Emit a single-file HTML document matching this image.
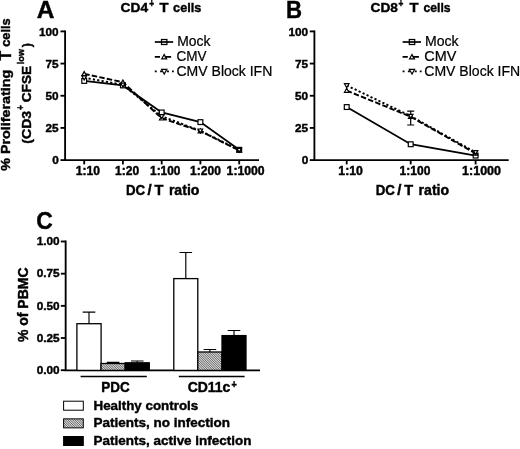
<!DOCTYPE html>
<html><head><meta charset="utf-8"><title>Figure</title>
<style>
html,body{margin:0;padding:0;background:#fff;}
body{width:520px;height:449px;overflow:hidden;}
svg{display:block;font-family:"Liberation Sans",Arial,Helvetica,sans-serif;fill:#000;}
.b{font-weight:bold;stroke:#000;stroke-width:0.42px;}
.n{font-weight:normal;stroke:#000;stroke-width:0.22px;}
.ax{stroke:#000;stroke-width:1.85;fill:none;}
</style></head><body>
<svg width="520" height="449" viewBox="0 0 520 449">
<rect width="520" height="449" fill="#fff"/>

<text class="b" x="36.70" y="18.40" font-size="24.3" textLength="17.65" lengthAdjust="spacingAndGlyphs">A</text>
<text class="b" x="286.00" y="18.40" font-size="24.3" textLength="16.05" lengthAdjust="spacingAndGlyphs">B</text>
<text class="b" x="36.30" y="228.80" font-size="24.3" textLength="16.55" lengthAdjust="spacingAndGlyphs">C</text>
<text class="b" x="120.60" y="11.90" font-size="13.4" textLength="27.51" lengthAdjust="spacingAndGlyphs">CD4</text>
<text class="b" x="149.20" y="6.90" font-size="10" textLength="4.89" lengthAdjust="spacingAndGlyphs">+</text>
<text class="b" x="159.50" y="11.90" font-size="13.4" textLength="9.01" lengthAdjust="spacingAndGlyphs">T</text>
<text class="b" x="173.10" y="11.90" font-size="13.4" textLength="28.19" lengthAdjust="spacingAndGlyphs">cells</text>
<text class="b" x="370.60" y="11.90" font-size="13.4" textLength="27.31" lengthAdjust="spacingAndGlyphs">CD8</text>
<text class="b" x="398.50" y="6.90" font-size="10" textLength="4.79" lengthAdjust="spacingAndGlyphs">+</text>
<text class="b" x="409.60" y="11.90" font-size="13.4" textLength="9.01" lengthAdjust="spacingAndGlyphs">T</text>
<text class="b" x="423.50" y="11.90" font-size="13.4" textLength="27.09" lengthAdjust="spacingAndGlyphs">cells</text>
<text class="b" transform="translate(10.25,170.70) rotate(-90)" font-size="13.6" textLength="100.92" lengthAdjust="spacingAndGlyphs">% Proliferating</text>
<text class="b" transform="translate(10.50,60.50) rotate(-90)" font-size="15.6" textLength="9.71" lengthAdjust="spacingAndGlyphs">T</text>
<text class="b" transform="translate(10.25,46.80) rotate(-90)" font-size="13.6" textLength="28.49" lengthAdjust="spacingAndGlyphs">cells</text>
<text class="b" transform="translate(30.60,143.70) rotate(-90)" font-size="13.3" textLength="32.88" lengthAdjust="spacingAndGlyphs">(CD3</text>
<text class="b" transform="translate(24.20,110.00) rotate(-90)" font-size="10" textLength="4.79" lengthAdjust="spacingAndGlyphs">+</text>
<text class="b" transform="translate(30.60,102.30) rotate(-90)" font-size="13.3" textLength="36.43" lengthAdjust="spacingAndGlyphs">CFSE</text>
<text class="b" transform="translate(24.00,64.20) rotate(-90)" font-size="9.7" textLength="15.17" lengthAdjust="spacingAndGlyphs">low</text>
<text class="b" transform="translate(30.60,47.30) rotate(-90)" font-size="13.3" textLength="4.08" lengthAdjust="spacingAndGlyphs">)</text>
<path class="ax" d="M65.1 30.45V160.1H259"/>
<path class="ax" d="M60.49999999999999 31.40H65.1"/>
<text class="b" x="58.7" y="35.55" font-size="11.8" text-anchor="end">100</text>
<path class="ax" d="M60.49999999999999 63.57H65.1"/>
<text class="b" x="58.7" y="67.72" font-size="11.8" text-anchor="end">75</text>
<path class="ax" d="M60.49999999999999 95.75H65.1"/>
<text class="b" x="58.7" y="99.90" font-size="11.8" text-anchor="end">50</text>
<path class="ax" d="M60.49999999999999 127.92H65.1"/>
<text class="b" x="58.7" y="132.07" font-size="11.8" text-anchor="end">25</text>
<path class="ax" d="M60.49999999999999 160.10H65.1"/>
<text class="b" x="58.7" y="164.25" font-size="11.8" text-anchor="end">0</text>
<path class="ax" d="M84.2 160.1V164.4"/>
<path class="ax" d="M122.9 160.1V164.4"/>
<path class="ax" d="M161.7 160.1V164.4"/>
<path class="ax" d="M200.4 160.1V164.4"/>
<path class="ax" d="M239.2 160.1V164.4"/>
<path class="ax" d="M314.4 30.45V160.1H508.7"/>
<path class="ax" d="M309.79999999999995 31.40H314.4"/>
<text class="b" x="308.2" y="35.55" font-size="11.8" text-anchor="end">100</text>
<path class="ax" d="M309.79999999999995 63.57H314.4"/>
<text class="b" x="308.2" y="67.72" font-size="11.8" text-anchor="end">75</text>
<path class="ax" d="M309.79999999999995 95.75H314.4"/>
<text class="b" x="308.2" y="99.90" font-size="11.8" text-anchor="end">50</text>
<path class="ax" d="M309.79999999999995 127.92H314.4"/>
<text class="b" x="308.2" y="132.07" font-size="11.8" text-anchor="end">25</text>
<path class="ax" d="M309.79999999999995 160.10H314.4"/>
<text class="b" x="308.2" y="164.25" font-size="11.8" text-anchor="end">0</text>
<path class="ax" d="M346.7 160.1V164.4"/>
<path class="ax" d="M410.7 160.1V164.4"/>
<path class="ax" d="M475.6 160.1V164.4"/>
<text class="b" x="75.80" y="175.00" font-size="12.1" textLength="24.22" lengthAdjust="spacingAndGlyphs">1:10</text>
<text class="b" x="115.10" y="175.00" font-size="12.1" textLength="24.07" lengthAdjust="spacingAndGlyphs">1:20</text>
<text class="b" x="150.10" y="175.00" font-size="12.1" textLength="30.27" lengthAdjust="spacingAndGlyphs">1:100</text>
<text class="b" x="190.10" y="175.00" font-size="12.1" textLength="30.77" lengthAdjust="spacingAndGlyphs">1:200</text>
<text class="b" x="226.60" y="175.00" font-size="12.1" textLength="38.04" lengthAdjust="spacingAndGlyphs">1:1000</text>
<text class="b" x="338.35" y="175.00" font-size="12.1" textLength="24.57" lengthAdjust="spacingAndGlyphs">1:10</text>
<text class="b" x="399.60" y="175.00" font-size="12.1" textLength="30.77" lengthAdjust="spacingAndGlyphs">1:100</text>
<text class="b" x="462.10" y="175.00" font-size="12.1" textLength="38.89" lengthAdjust="spacingAndGlyphs">1:1000</text>
<text class="b" x="126.00" y="195.20" font-size="14.2" textLength="19.19" lengthAdjust="spacingAndGlyphs">DC</text>
<text class="b" x="147.50" y="195.20" font-size="14.2" textLength="4.17" lengthAdjust="spacingAndGlyphs">/</text>
<text class="b" x="154.60" y="195.20" font-size="14.2" textLength="8.91" lengthAdjust="spacingAndGlyphs">T</text>
<text class="b" x="168.90" y="195.20" font-size="14.2" textLength="30.53" lengthAdjust="spacingAndGlyphs">ratio</text>
<text class="b" x="375.70" y="195.20" font-size="14.2" textLength="19.19" lengthAdjust="spacingAndGlyphs">DC</text>
<text class="b" x="397.20" y="195.20" font-size="14.2" textLength="4.17" lengthAdjust="spacingAndGlyphs">/</text>
<text class="b" x="404.30" y="195.20" font-size="14.2" textLength="8.91" lengthAdjust="spacingAndGlyphs">T</text>
<text class="b" x="418.60" y="195.20" font-size="14.2" textLength="30.53" lengthAdjust="spacingAndGlyphs">ratio</text>
<polyline points="84.20,80.92 122.90,85.42 161.70,112.46 200.40,122.12 239.20,149.80" fill="none" stroke="#000" stroke-width="1.8"/>
<rect x="81.80" y="78.52" width="4.8" height="4.8" fill="#fff" stroke="#000" stroke-width="1.2"/>
<rect x="120.50" y="83.02" width="4.8" height="4.8" fill="#fff" stroke="#000" stroke-width="1.2"/>
<rect x="159.30" y="110.06" width="4.8" height="4.8" fill="#fff" stroke="#000" stroke-width="1.2"/>
<rect x="198.00" y="119.72" width="4.8" height="4.8" fill="#fff" stroke="#000" stroke-width="1.2"/>
<rect x="236.80" y="147.40" width="4.8" height="4.8" fill="#fff" stroke="#000" stroke-width="1.2"/>
<polyline points="84.20,73.84 122.90,82.21 161.70,118.26 200.40,131.13 239.20,150.44" fill="none" stroke="#000" stroke-width="1.95" stroke-dasharray="5.5 2.2"/>
<path d="M84.20 71.59L86.45 75.59L81.95 75.59Z" fill="#fff" stroke="#000" stroke-width="1.2"/>
<path d="M122.90 79.96L125.15 83.96L120.65 83.96Z" fill="#fff" stroke="#000" stroke-width="1.2"/>
<path d="M161.70 116.01L163.95 120.01L159.45 120.01Z" fill="#fff" stroke="#000" stroke-width="1.2"/>
<path d="M200.40 128.88L202.65 132.89L198.15 132.89Z" fill="#fff" stroke="#000" stroke-width="1.2"/>
<path d="M239.20 148.19L241.45 152.20L236.95 152.20Z" fill="#fff" stroke="#000" stroke-width="1.2"/>
<polyline points="84.20,77.70 122.90,84.78 161.70,116.32 200.40,130.75 239.20,150.06" fill="none" stroke="#000" stroke-width="1.95" stroke-dasharray="2.2 2.2"/>
<path d="M84.20 79.95L86.45 75.94L81.95 75.94Z" fill="#fff" stroke="#000" stroke-width="1.2"/>
<path d="M122.90 87.03L125.15 83.03L120.65 83.03Z" fill="#fff" stroke="#000" stroke-width="1.2"/>
<path d="M161.70 118.57L163.95 114.57L159.45 114.57Z" fill="#fff" stroke="#000" stroke-width="1.2"/>
<path d="M200.40 133.00L202.65 128.99L198.15 128.99Z" fill="#fff" stroke="#000" stroke-width="1.2"/>
<path d="M239.20 152.31L241.45 148.30L236.95 148.30Z" fill="#fff" stroke="#000" stroke-width="1.2"/>
<path d="M410.7 111.2V125M407.2 111.2H414.2M407.2 125H414.2" stroke="#000" stroke-width="1.2" fill="none"/>
<polyline points="346.70,107.05 410.70,144.26 475.60,155.59" fill="none" stroke="#000" stroke-width="1.8"/>
<rect x="344.30" y="104.65" width="4.8" height="4.8" fill="#fff" stroke="#000" stroke-width="1.2"/>
<rect x="408.30" y="141.86" width="4.8" height="4.8" fill="#fff" stroke="#000" stroke-width="1.2"/>
<rect x="473.20" y="153.19" width="4.8" height="4.8" fill="#fff" stroke="#000" stroke-width="1.2"/>
<polyline points="346.70,90.57 410.70,116.71 475.60,153.41" fill="none" stroke="#000" stroke-width="1.95" stroke-dasharray="5.5 2.2"/>
<path d="M346.70 88.32L348.95 92.33L344.45 92.33Z" fill="#fff" stroke="#000" stroke-width="1.2"/>
<path d="M410.70 114.46L412.95 118.47L408.45 118.47Z" fill="#fff" stroke="#000" stroke-width="1.2"/>
<path d="M475.60 151.16L477.85 155.16L473.35 155.16Z" fill="#fff" stroke="#000" stroke-width="1.2"/>
<polyline points="346.70,85.42 410.70,116.07 475.60,152.38" fill="none" stroke="#000" stroke-width="1.95" stroke-dasharray="2.2 2.2"/>
<path d="M346.70 87.67L348.95 83.67L344.45 83.67Z" fill="#fff" stroke="#000" stroke-width="1.2"/>
<path d="M410.70 118.32L412.95 114.31L408.45 114.31Z" fill="#fff" stroke="#000" stroke-width="1.2"/>
<path d="M475.60 154.62L477.85 150.62L473.35 150.62Z" fill="#fff" stroke="#000" stroke-width="1.2"/>
<path d="M154.8 42H173.2" stroke="#000" stroke-width="1.7"/>
<rect x="161.5" y="39.5" width="5.4" height="5" fill="none" stroke="#000" stroke-width="1.25"/>
<path d="M164.20 54.45L166.65 58.81L161.75 58.81Z" fill="#fff" stroke="#000" stroke-width="1.2"/>
<path d="M154.8 56.8H160.0M164.7 56.8H171.1" stroke="#000" stroke-width="1.7"/>
<path d="M164.20 74.10L166.80 69.47L161.60 69.47Z" fill="#fff" stroke="#000" stroke-width="1.2"/>
<path d="M154.8 71.3h1.9M160.1 71.3h2M167.0 71.3h1.9M172.0 71.3h1.8" stroke="#000" stroke-width="1.85"/>
<text class="n" x="177.20" y="45.60" font-size="14" textLength="33.22" lengthAdjust="spacingAndGlyphs">Mock</text>
<text class="n" x="176.50" y="60.80" font-size="14" textLength="30.03" lengthAdjust="spacingAndGlyphs">CMV</text>
<text class="n" x="176.50" y="75.80" font-size="14" textLength="95.79" lengthAdjust="spacingAndGlyphs">CMV Block IFN</text>
<path d="M402.6 42H421.0" stroke="#000" stroke-width="1.7"/>
<rect x="409.3" y="39.5" width="5.4" height="5" fill="none" stroke="#000" stroke-width="1.25"/>
<path d="M412.00 54.45L414.45 58.81L409.55 58.81Z" fill="#fff" stroke="#000" stroke-width="1.2"/>
<path d="M402.6 56.8H407.8M412.5 56.8H418.90000000000003" stroke="#000" stroke-width="1.7"/>
<path d="M412.00 74.10L414.60 69.47L409.40 69.47Z" fill="#fff" stroke="#000" stroke-width="1.2"/>
<path d="M402.6 71.3h1.9M407.90000000000003 71.3h2M414.8 71.3h1.9M419.8 71.3h1.8" stroke="#000" stroke-width="1.85"/>
<text class="n" x="425.00" y="45.60" font-size="14" textLength="33.62" lengthAdjust="spacingAndGlyphs">Mock</text>
<text class="n" x="424.30" y="60.80" font-size="14" textLength="32.03" lengthAdjust="spacingAndGlyphs">CMV</text>
<text class="n" x="424.30" y="75.80" font-size="14" textLength="95.89" lengthAdjust="spacingAndGlyphs">CMV Block IFN</text>
<text class="b" transform="translate(28.40,342.10) rotate(-90)" font-size="14" textLength="74.67" lengthAdjust="spacingAndGlyphs">% of PBMC</text>
<path class="ax" d="M65.65 240.5V370.4H260"/>
<path class="ax" d="M60.85000000000001 241.50H65.65"/>
<text class="b" x="59.7" y="245.25" font-size="11.8" text-anchor="end">1.00</text>
<path class="ax" d="M60.85000000000001 273.68H65.65"/>
<text class="b" x="59.7" y="277.43" font-size="11.8" text-anchor="end">0.75</text>
<path class="ax" d="M60.85000000000001 305.85H65.65"/>
<text class="b" x="59.7" y="309.60" font-size="11.8" text-anchor="end">0.50</text>
<path class="ax" d="M60.85000000000001 338.02H65.65"/>
<text class="b" x="59.7" y="341.77" font-size="11.8" text-anchor="end">0.25</text>
<path class="ax" d="M60.85000000000001 370.20H65.65"/>
<text class="b" x="59.7" y="373.95" font-size="11.8" text-anchor="end">0.00</text>
<path d="M89.0 323.7V312.1M82.7 312.1H95.3" stroke="#000" stroke-width="1.15" fill="none"/><rect x="76.9" y="323.7" width="24.20" height="46.70" fill="#fff" stroke="#000" stroke-width="1.3"/>
<path d="M113.1 363.5V362.3M106.8 362.3H119.39999999999999" stroke="#000" stroke-width="1.15" fill="none"/><clipPath id="c1"><rect x="101.00" y="363.50" width="24.20" height="6.90"/></clipPath><rect x="101.00" y="363.50" width="24.20" height="6.90" fill="#fff"/><path clip-path="url(#c1)" d="M94.10 363.50l6.90 6.90M95.85 363.50l6.90 6.90M97.60 363.50l6.90 6.90M99.35 363.50l6.90 6.90M101.10 363.50l6.90 6.90M102.85 363.50l6.90 6.90M104.60 363.50l6.90 6.90M106.35 363.50l6.90 6.90M108.10 363.50l6.90 6.90M109.85 363.50l6.90 6.90M111.60 363.50l6.90 6.90M113.35 363.50l6.90 6.90M115.10 363.50l6.90 6.90M116.85 363.50l6.90 6.90M118.60 363.50l6.90 6.90M120.35 363.50l6.90 6.90M122.10 363.50l6.90 6.90M123.85 363.50l6.90 6.90" stroke="#222" stroke-width="0.7" fill="none"/><rect x="101" y="363.5" width="24.20" height="6.90" fill="none" stroke="#000" stroke-width="1.3"/>
<path d="M137.25 362.8V361M130.95 361H143.55" stroke="#000" stroke-width="1.15" fill="none"/><rect x="125.2" y="362.8" width="24.10" height="7.60" fill="#000" stroke="#000" stroke-width="1.3"/>
<path d="M185.8 278.6V252.5M179.5 252.5H192.10000000000002" stroke="#000" stroke-width="1.15" fill="none"/><rect x="173.8" y="278.6" width="24.00" height="91.80" fill="#fff" stroke="#000" stroke-width="1.3"/>
<path d="M209.9 352V349.5M203.6 349.5H216.20000000000002" stroke="#000" stroke-width="1.15" fill="none"/><clipPath id="c2"><rect x="197.80" y="352.00" width="24.20" height="18.40"/></clipPath><rect x="197.80" y="352.00" width="24.20" height="18.40" fill="#fff"/><path clip-path="url(#c2)" d="M179.40 352.00l18.40 18.40M181.15 352.00l18.40 18.40M182.90 352.00l18.40 18.40M184.65 352.00l18.40 18.40M186.40 352.00l18.40 18.40M188.15 352.00l18.40 18.40M189.90 352.00l18.40 18.40M191.65 352.00l18.40 18.40M193.40 352.00l18.40 18.40M195.15 352.00l18.40 18.40M196.90 352.00l18.40 18.40M198.65 352.00l18.40 18.40M200.40 352.00l18.40 18.40M202.15 352.00l18.40 18.40M203.90 352.00l18.40 18.40M205.65 352.00l18.40 18.40M207.40 352.00l18.40 18.40M209.15 352.00l18.40 18.40M210.90 352.00l18.40 18.40M212.65 352.00l18.40 18.40M214.40 352.00l18.40 18.40M216.15 352.00l18.40 18.40M217.90 352.00l18.40 18.40M219.65 352.00l18.40 18.40M221.40 352.00l18.40 18.40" stroke="#222" stroke-width="0.7" fill="none"/><rect x="197.8" y="352" width="24.20" height="18.40" fill="none" stroke="#000" stroke-width="1.3"/>
<path d="M234.0 335.6V330.5M227.7 330.5H240.3" stroke="#000" stroke-width="1.15" fill="none"/><rect x="222" y="335.6" width="24.00" height="34.80" fill="#000" stroke="#000" stroke-width="1.3"/>
<path d="M80.6 376.5H146.8M178.8 376.5H244.6" stroke="#000" stroke-width="1.6"/>
<text class="b" x="101.20" y="391.80" font-size="13.8" textLength="28.42" lengthAdjust="spacingAndGlyphs">PDC</text>
<text class="b" x="187.70" y="391.80" font-size="13.8" textLength="42.67" lengthAdjust="spacingAndGlyphs">CD11c</text>
<text class="b" x="231.40" y="387.70" font-size="10" textLength="5.29" lengthAdjust="spacingAndGlyphs">+</text>
<rect x="63.6" y="401.20" width="19.7" height="9.0" fill="#fff" stroke="#000" stroke-width="1"/>
<text class="b" x="93.50" y="409.70" font-size="13.4" textLength="104.70" lengthAdjust="spacingAndGlyphs">Healthy controls</text>
<clipPath id="c3"><rect x="63.60" y="418.85" width="19.70" height="9.00"/></clipPath><rect x="63.60" y="418.85" width="19.70" height="9.00" fill="#fff"/><path clip-path="url(#c3)" d="M54.60 418.85l9.00 9.00M56.35 418.85l9.00 9.00M58.10 418.85l9.00 9.00M59.85 418.85l9.00 9.00M61.60 418.85l9.00 9.00M63.35 418.85l9.00 9.00M65.10 418.85l9.00 9.00M66.85 418.85l9.00 9.00M68.60 418.85l9.00 9.00M70.35 418.85l9.00 9.00M72.10 418.85l9.00 9.00M73.85 418.85l9.00 9.00M75.60 418.85l9.00 9.00M77.35 418.85l9.00 9.00M79.10 418.85l9.00 9.00M80.85 418.85l9.00 9.00M82.60 418.85l9.00 9.00" stroke="#222" stroke-width="0.7" fill="none"/>
<rect x="63.6" y="418.85" width="19.7" height="9.0" fill="none" stroke="#000" stroke-width="1"/>
<text class="b" x="93.50" y="427.20" font-size="13.4" textLength="136.53" lengthAdjust="spacingAndGlyphs">Patients, no infection</text>
<rect x="63.6" y="436.50" width="19.7" height="9.0" fill="#000" stroke="#000" stroke-width="1"/>
<text class="b" x="93.50" y="445.30" font-size="13.4" textLength="158.01" lengthAdjust="spacingAndGlyphs">Patients, active infection</text>
</svg></body></html>
